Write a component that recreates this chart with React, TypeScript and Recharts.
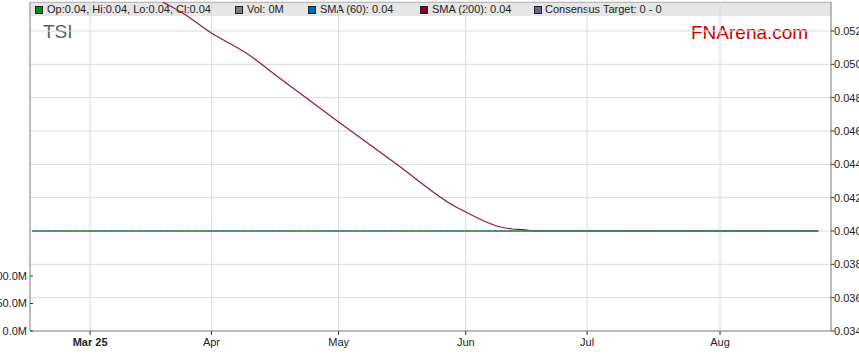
import React from "react";
import { CartesianGrid, ComposedChart, Line, XAxis, YAxis } from "recharts";

// x positions are trading-day indexes counted from Mon 3 Mar 2025
const priceDays = [-10, 126];
const closeValues = [0.04, 0.04];
const sma60Values = [0.04, 0.04];
const volumeValues = [0, 0];

const sma200Days = [10, 12, 16, 21, 27, 33, 43, 53, 63, 65, 71, 73, 75, 77, 126];
const sma200Values = [
  0.05428, 0.05386, 0.05308, 0.05188, 0.05068, 0.04912, 0.04654, 0.04402, 0.0415, 0.04114, 0.04024,
  0.04012, 0.04008, 0.04, 0.04,
];

const monthTicks = [0, 21, 43, 65, 86, 109];
const monthLabels = ["Mar 25", "Apr", "May", "Jun", "Jul", "Aug"];

const priceTicks = [0.034, 0.036, 0.038, 0.04, 0.042, 0.044, 0.046, 0.048, 0.05, 0.052];
const volumeTicks = [0, 50e6, 100e6];

const legendItems = [
  { color: "#138a13", text: "Op:0.04, Hi:0.04, Lo:0.04, Cl:0.04", sq: 35, tx: 47 },
  { color: "#7f7f7f", text: "Vol: 0M", sq: 235, tx: 247 },
  { color: "#0f66a8", text: "SMA (60): 0.04", sq: 308, tx: 320 },
  { color: "#7d0a2a", text: "SMA (200): 0.04", sq: 420, tx: 432 },
  { color: "#66668f", text: "Consensus Target: 0 - 0", sq: 534, tx: 545 },
];

const font = "'Liberation Sans', Arial, sans-serif";

const rows = Array.from(new Set([...priceDays, ...sma200Days]))
  .sort((a, b) => a - b)
  .map((i) => {
    const p = priceDays.indexOf(i);
    const s = sma200Days.indexOf(i);
    return {
      i,
      close: p >= 0 ? closeValues[p] : undefined,
      sma60: p >= 0 ? sma60Values[p] : undefined,
      vol: p >= 0 ? volumeValues[p] : undefined,
      sma200: s >= 0 ? sma200Values[s] : undefined,
    };
  });

function MonthTick(props: any) {
  const { x, y, payload } = props;
  const idx = monthTicks.indexOf(payload.value);
  const label = monthLabels[idx] ?? "";
  return (
    <text
      x={x}
      y={y + 11}
      textAnchor="middle"
      fontSize={11}
      fontFamily={font}
      fontWeight={idx === 0 ? "bold" : "normal"}
      fill="#222"
    >
      {label}
    </text>
  );
}

function VolumeTick(props: any) {
  const { x, y, payload } = props;
  return (
    <g>
      <line x1={x + 3} x2={x + 6} y1={y} y2={y} stroke="#333" />
      <text x={x} y={y + 4} textAnchor="end" fontSize={11} fontFamily={font} fill="#222">
        {(payload.value / 1e6).toFixed(1) + "M"}
      </text>
    </g>
  );
}

export default function App() {
  return (
    <div style={{ position: "absolute", left: 0, top: 0, width: 859, height: 363, background: "#fff" }}>
      <div
        style={{
          position: "absolute",
          left: 30,
          top: 2,
          width: 801,
          height: 329,
          borderTop: "1px solid #9a9a9a",
          boxSizing: "border-box",
        }}
      />
      <div style={{ position: "absolute", left: 31, top: 3, width: 800, height: 13, background: "#e6e6e6" }} />
      {legendItems.map((it) => (
        <React.Fragment key={it.text}>
          <div
            style={{
              position: "absolute",
              left: it.sq,
              top: 6,
              width: 8,
              height: 8,
              boxSizing: "border-box",
              background: it.color,
              border: "1px solid #222",
            }}
          />
          <div
            style={{
              position: "absolute",
              left: it.tx,
              top: 3,
              fontSize: 11,
              lineHeight: "13px",
              fontFamily: font,
              color: "#222",
              whiteSpace: "nowrap",
            }}
          >
            {it.text}
          </div>
        </React.Fragment>
      ))}
      <div
        style={{ position: "absolute", left: 43, top: 21, fontSize: 19, fontFamily: font, color: "#56606a", lineHeight: "22px" }}
      >
        TSI
      </div>
      <div
        style={{ position: "absolute", left: 691, top: 22, fontSize: 19, fontFamily: font, color: "#c80000", lineHeight: "22px" }}
      >
        FNArena.com
      </div>
      <div style={{ position: "absolute", left: 0, top: 0 }}>
        <ComposedChart width={859} height={363} data={rows} margin={{ top: 2, right: 0, bottom: 0, left: 0 }}>
          <CartesianGrid yAxisId="price" stroke="#d9d9d9" strokeWidth={1} />
          <XAxis
            dataKey="i"
            type="number"
            domain={[-10.4, 128.2]}
            allowDataOverflow
            ticks={monthTicks}
            interval={0}
            height={32}
            tickSize={4}
            tickMargin={0}
            stroke="#8a8a8a"
            tickLine={{ stroke: "#333" }}
            tick={<MonthTick />}
          />
          <YAxis
            yAxisId="vol"
            orientation="left"
            width={30}
            domain={[0, 598e6]}
            allowDataOverflow
            ticks={volumeTicks}
            interval={0}
            tickSize={0}
            tickMargin={3}
            stroke="#8a8a8a"
            tick={<VolumeTick />}
          />
          <YAxis
            yAxisId="price"
            orientation="right"
            width={28}
            domain={[0.034, 0.05374]}
            allowDataOverflow
            ticks={priceTicks}
            interval={0}
            tickSize={3}
            tickMargin={0}
            stroke="#8a8a8a"
            tickLine={{ stroke: "#333" }}
            tickFormatter={(v: number) => v.toFixed(3)}
            tick={{ fontSize: 11, fontFamily: font, fill: "#222" }}
          />
          <Line
            yAxisId="vol"
            dataKey="vol"
            stroke="none"
            dot={false}
            connectNulls
            isAnimationActive={false}
          />
          <Line
            yAxisId="price"
            type="monotone"
            dataKey="sma200"
            stroke="#8a1c40"
            strokeWidth={1.2}
            dot={false}
            connectNulls
            isAnimationActive={false}
          />
          <Line
            yAxisId="price"
            dataKey="close"
            stroke="#1b8a1b"
            strokeWidth={1.4}
            dot={false}
            connectNulls
            isAnimationActive={false}
          />
          <Line
            yAxisId="price"
            dataKey="sma60"
            stroke="#3f7fbf"
            strokeWidth={1}
            strokeDasharray="4 3"
            dot={false}
            connectNulls
            isAnimationActive={false}
          />
        </ComposedChart>
      </div>
    </div>
  );
}
